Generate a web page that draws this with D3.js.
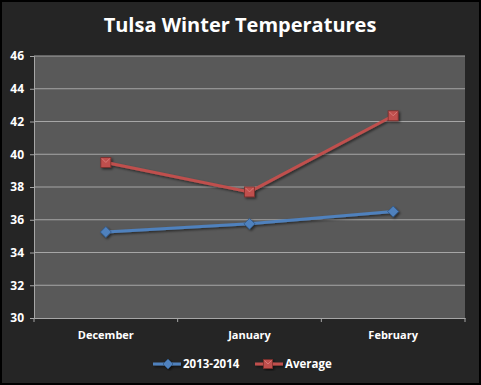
<!DOCTYPE html>
<html><head><meta charset="utf-8">
<script src="https://cdn.jsdelivr.net/npm/d3@7/dist/d3.min.js"></script>
<style>
html,body{margin:0;padding:0;background:#000;}
svg{display:block;}
text{font-family:"Open Sans","Lato",sans-serif;}
</style></head>
<body>
<script>
const categories = ["December", "January", "February"];
const series2013 = [35.25, 35.75, 36.5];
const seriesAverage = [39.5, 37.7, 42.35];
const yTicks = [30, 32, 34, 36, 38, 40, 42, 44, 46];
const seriesNames = ["2013-2014", "Average"];

const W = 481, H = 385;
const svg = d3.select("body").append("svg").attr("width", W).attr("height", H);

const defs = svg.append("defs");
const f = defs.append("filter").attr("id","sh").attr("x","-20%").attr("y","-20%").attr("width","140%").attr("height","140%");
f.append("feDropShadow").attr("dx",1.5).attr("dy",1.5).attr("stdDeviation",1.2).attr("flood-color","#000").attr("flood-opacity",0.55);

svg.append("rect").attr("x",0).attr("y",0).attr("width",W).attr("height",H).attr("fill","#000");
svg.append("rect").attr("x",2).attr("y",2).attr("width",W-4).attr("height",H-4).attr("fill","#252525");

svg.append("text").attr("x",240).attr("y",32).attr("text-anchor","middle")
  .attr("fill","#fff").attr("font-size",20).attr("font-weight","bold").text("Tulsa Winter Temperatures");

const pL = 34, pR = 465, pT = 56, pB = 318;
const x = d3.scaleBand().domain(categories).range([pL, pR]);
const y = d3.scaleLinear().domain([30, 46]).range([pB, pT]);

svg.append("rect").attr("x",pL).attr("y",pT).attr("width",pR-pL).attr("height",pB-pT).attr("fill","#595959");

svg.append("g").selectAll("line").data(yTicks.slice(1)).join("line")
  .attr("x1",pL).attr("x2",pR).attr("y1",d=>y(d)).attr("y2",d=>y(d))
  .attr("stroke","#a6a6a6").attr("stroke-width",1);

const ya = svg.append("g").attr("transform",`translate(${pL},0)`)
  .call(d3.axisLeft(y).tickValues(yTicks).tickSize(4).tickPadding(6));
ya.select(".domain").attr("stroke","#a6a6a6");
ya.selectAll(".tick line").attr("stroke","#a6a6a6");
ya.selectAll("text").attr("fill","#fff").attr("font-size",12).attr("font-weight","bold")
  .attr("font-family","'Open Sans',sans-serif");

const xa = svg.append("g").attr("transform",`translate(0,${pB})`)
  .call(d3.axisBottom(x).tickSize(0).tickPadding(13));
xa.select(".domain").attr("stroke","#a6a6a6");
xa.selectAll("text").attr("fill","#fff").attr("font-size",11).attr("font-weight","bold")
  .attr("font-family","'Open Sans',sans-serif");
const bounds = [pL, ...categories.map(c => x(c) + x.bandwidth())];
svg.append("g").selectAll("line").data(bounds).join("line")
  .attr("x1",d=>d).attr("x2",d=>d).attr("y1",pB).attr("y2",pB+4)
  .attr("stroke","#a6a6a6");

const cx = c => x(c) + x.bandwidth()/2;
const line = d3.line().x((d,i)=>cx(categories[i])).y(d=>y(d));

const blue = "#4F81BD", red = "#C0504D";

function diamond(g, px, py, s, col){
  g.append("path").attr("d",`M${px},${py-s}L${px+s},${py}L${px},${py+s}L${px-s},${py}Z`)
    .attr("fill",col).attr("stroke","#2f5684").attr("stroke-width",0.8);
}
function square(g, px, py, s, col){
  g.append("rect").attr("x",px-s).attr("y",py-s).attr("width",2*s).attr("height",2*s)
    .attr("fill",col).attr("stroke","#7a2e2c").attr("stroke-width",0.8);
  g.append("path").attr("d",`M${px-s+1},${py-s+1}L${px},${py}L${px+s-1},${py-s+1}`)
    .attr("fill","none").attr("stroke","#e08a88").attr("stroke-width",0.7);
}

const gS = svg.append("g").attr("filter","url(#sh)");
gS.append("path").datum(series2013).attr("d",line).attr("fill","none").attr("stroke",blue).attr("stroke-width",3);
gS.append("path").datum(seriesAverage).attr("d",line).attr("fill","none").attr("stroke",red).attr("stroke-width",3);
series2013.forEach((v,i)=>diamond(gS, cx(categories[i]), y(v), 5.5, blue));
seriesAverage.forEach((v,i)=>square(gS, cx(categories[i]), y(v), 5, red));

const ly = 364;
const lg = svg.append("g");
const lgS = lg.append("g").attr("filter","url(#sh)");
lgS.append("line").attr("x1",153).attr("x2",181).attr("y1",ly).attr("y2",ly).attr("stroke",blue).attr("stroke-width",3);
diamond(lgS, 168, ly, 5, blue);
lg.append("text").attr("x",183).attr("y",ly+4).attr("fill","#fff").attr("font-size",11.5).attr("font-weight","bold").text(seriesNames[0]);
lgS.append("line").attr("x1",255).attr("x2",283).attr("y1",ly).attr("y2",ly).attr("stroke",red).attr("stroke-width",3);
square(lgS, 268, ly, 4.5, red);
lg.append("text").attr("x",285).attr("y",ly+4).attr("fill","#fff").attr("font-size",11.5).attr("font-weight","bold").text(seriesNames[1]);
</script>
</body></html>
